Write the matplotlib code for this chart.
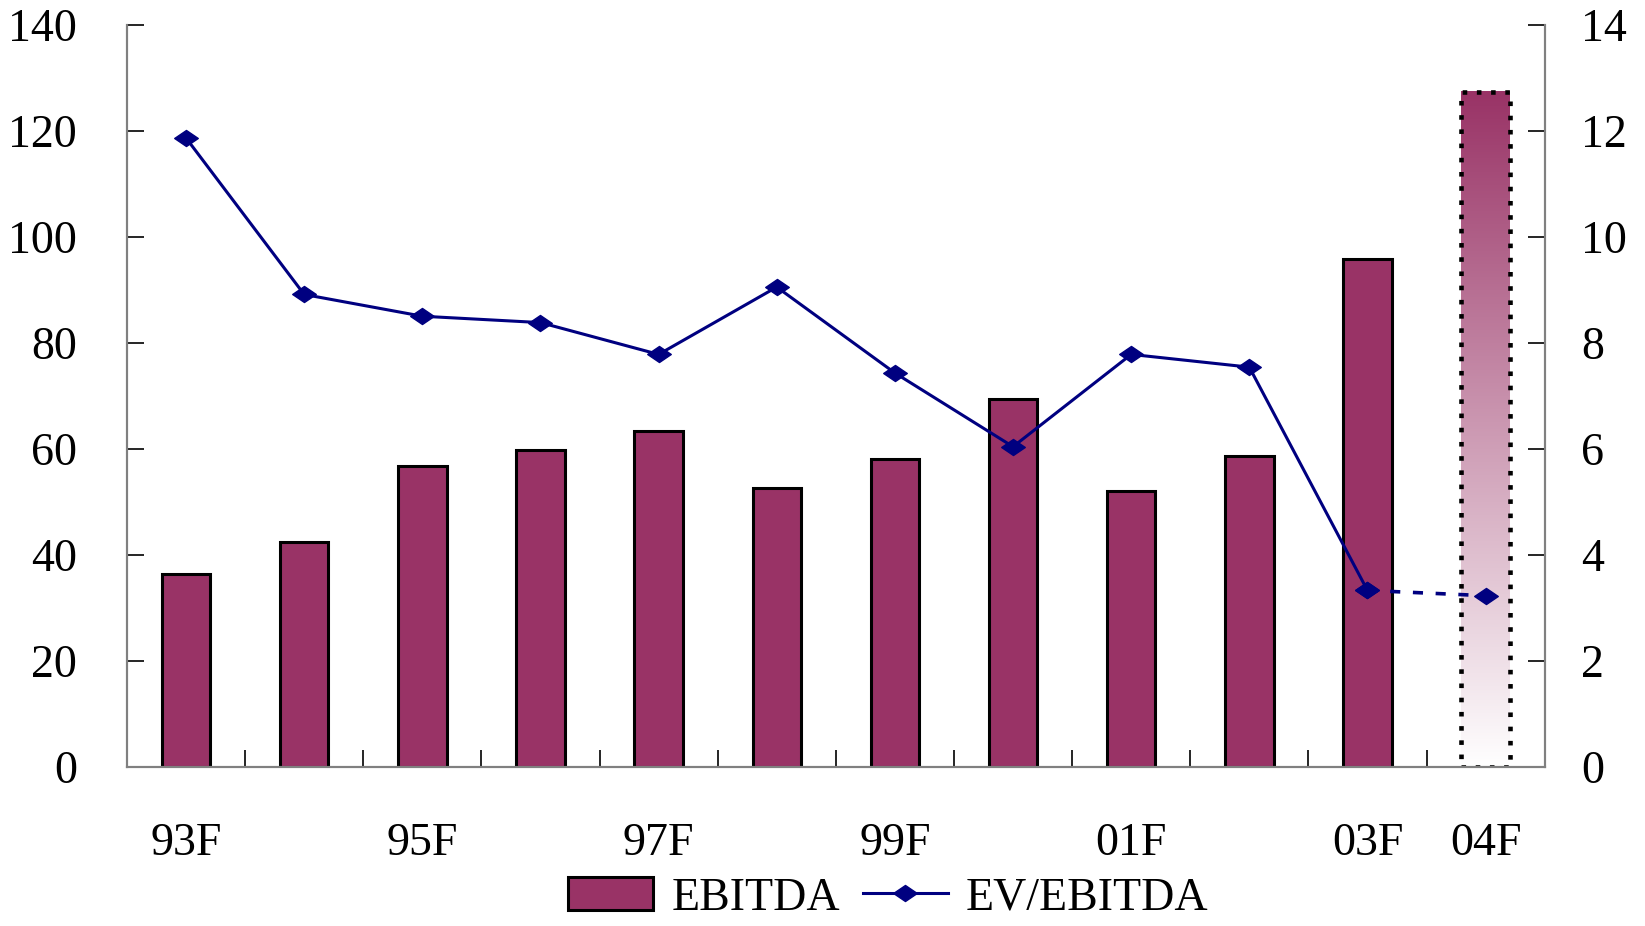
import matplotlib

matplotlib.use("Agg")

import matplotlib.pyplot as plt
import numpy as np
from matplotlib.lines import Line2D
from matplotlib.patches import Patch, Rectangle
from matplotlib.path import Path

# ------------------------------------------------------------------ data

YEARS = ["93F", "94F", "95F", "96F", "97F", "98F", "99F", "00F", "01F", "02F", "03F", "04F"]
TICK_LABELS = ["93F", "", "95F", "", "97F", "", "99F", "", "01F", "", "03F", "04F"]
EBITDA = [36.4, 42.4, 56.8, 59.8, 63.4, 52.7, 58.0, 69.3, 52.1, 58.6, 95.8, 127.3]
EV_EBITDA = [11.86, 8.91, 8.50, 8.38, 7.78, 9.05, 7.43, 6.04, 7.78, 7.54, 3.33, 3.23]
N_ACTUAL = 11  # the last category is a forecast: gradient bar + dashed line

# ------------------------------------------------------------------ style

BAR_COLOR = "#993366"
LINE_COLOR = "#000080"
SPINE_COLOR = "#808080"
FONT = "Liberation Serif"
FS = 33

plt.rcParams["font.family"] = [FONT, "DejaVu Serif"]

diamond = Path([(-1, 0), (0, 0.68), (1, 0), (0, -0.68), (-1, 0)],
               [Path.MOVETO, Path.LINETO, Path.LINETO, Path.LINETO, Path.CLOSEPOLY])

fig = plt.figure(figsize=(16.45, 9.26), dpi=100)
ax = fig.add_axes([0.0772, 0.1717, 0.8618, 0.8018])
ax2 = ax.twinx()

x = np.arange(len(YEARS))
width = 0.41

ax.bar(x[:N_ACTUAL], EBITDA[:N_ACTUAL], width=width, color=BAR_COLOR,
       edgecolor="black", linewidth=2.2, zorder=2)

# forecast bar: vertical gradient from the bar colour down to white
xf = x[N_ACTUAL]
top = EBITDA[N_ACTUAL]
base = np.array(matplotlib.colors.to_rgb(BAR_COLOR))
t = np.linspace(0, 1, 256)[:, None]
grad = (base * (1 - t) + np.ones(3) * t)[:, None, :]  # row 0 = top
ax.imshow(grad, extent=[xf - width / 2, xf + width / 2, 0, top],
          aspect="auto", origin="upper", zorder=2, interpolation="bilinear")
ax.add_patch(Rectangle((xf - width / 2, 0), width, top, fill=False,
                       edgecolor="black", linewidth=3.3, linestyle=(0, (1, 2.1)),
                       zorder=3))

ax2.plot(x[:N_ACTUAL], EV_EBITDA[:N_ACTUAL], color=LINE_COLOR, linewidth=2.2,
         marker=diamond, markersize=17, zorder=4)
ax2.plot(x[N_ACTUAL - 1:], EV_EBITDA[N_ACTUAL - 1:], color=LINE_COLOR,
         linewidth=2.6, linestyle=(0, (2.8, 3.5)), marker=diamond,
         markersize=17, zorder=4)

# ------------------------------------------------------------------ axes

ax.set_xlim(-0.5, len(YEARS) - 0.5)
ax.set_ylim(0, 140)
ax2.set_ylim(0, 14)

ax.set_yticks(np.arange(0, 141, 20))
ax2.set_yticks(np.arange(0, 15, 2))
ax.set_xticks(x)
ax.set_xticklabels(TICK_LABELS)
ax.set_xticks(np.arange(0.5, len(YEARS) - 1, 1), minor=True)

ax.tick_params(axis="x", which="major", length=0, pad=40, labelsize=FS)
ax.tick_params(axis="x", which="minor", direction="in", length=12, width=1.2,
               color="black")
ax.tick_params(axis="y", direction="in", length=12, width=1.2, pad=36,
               labelsize=FS, color="black")
ax2.tick_params(axis="y", direction="in", length=12, width=1.2, pad=26,
                labelsize=FS, color="black")

for a in (ax, ax2):
    a.spines["top"].set_visible(False)
    for s in ("left", "right", "bottom"):
        a.spines[s].set_color(SPINE_COLOR)
        a.spines[s].set_linewidth(1.5)

handles = [
    Patch(facecolor=BAR_COLOR, edgecolor="black", linewidth=2.2, label="EBITDA"),
    Line2D([], [], color=LINE_COLOR, linewidth=2.2, marker=diamond,
           markersize=17, label="EV/EBITDA"),
]
fig.legend(handles=handles, loc="center", bbox_to_anchor=(0.54, 0.03),
           ncol=2, frameon=False, fontsize=FS, handlelength=1.85,
           handleheight=0.75, handletextpad=0.4, columnspacing=0.5,
           borderaxespad=0)

fig.savefig("out.png", dpi=100)
